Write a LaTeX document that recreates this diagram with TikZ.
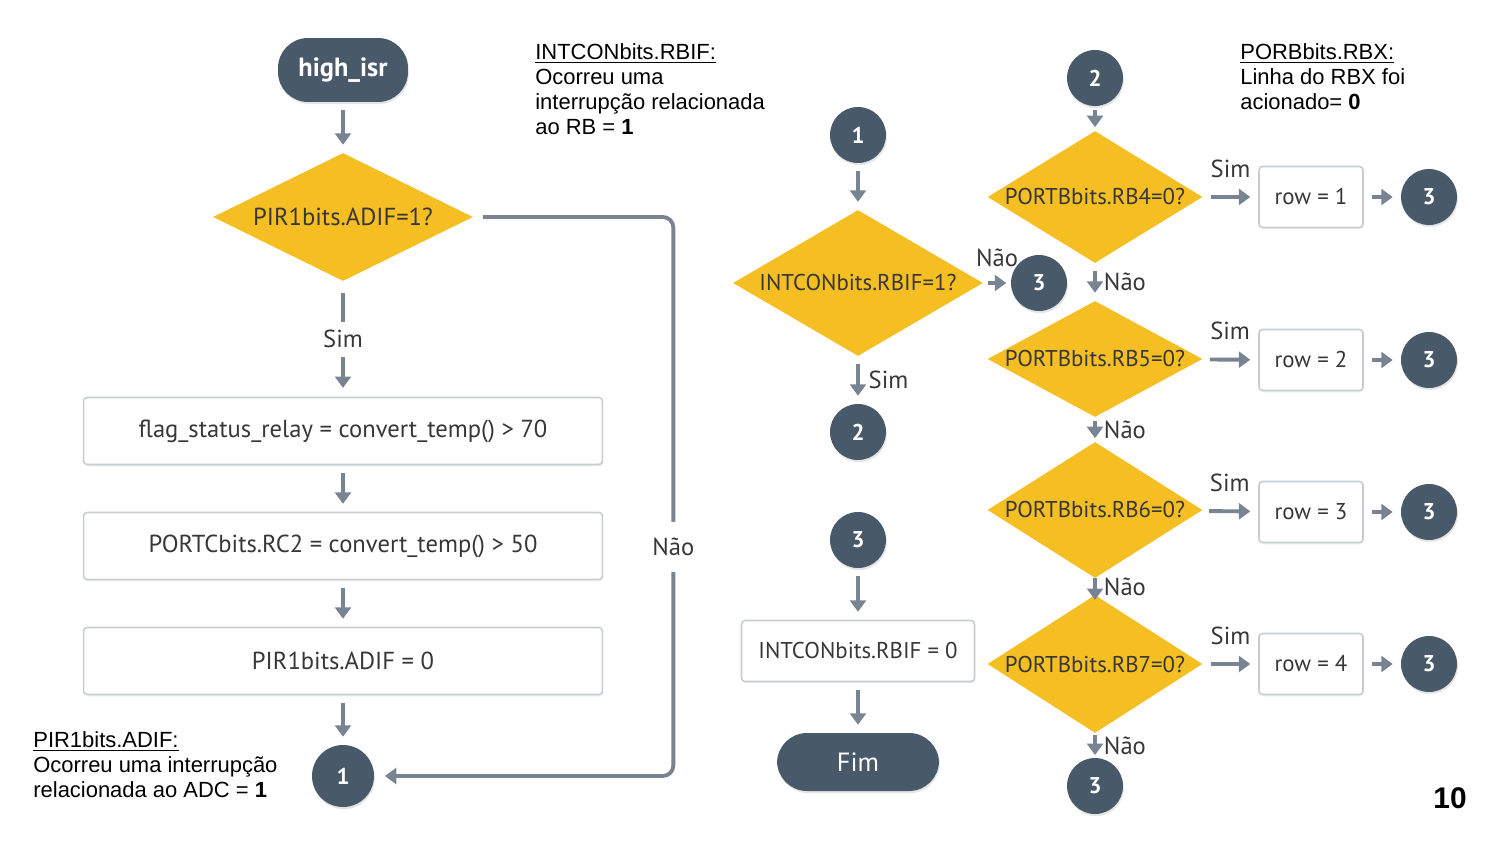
\documentclass[tikz,border=0pt]{standalone}
\usepackage{fontspec}
\setmainfont{Liberation Sans}
\newfontfamily\dinfont{PT Sans}
\usepackage{tikz}
\usetikzlibrary{shapes, shapes.geometric, positioning, calc, arrows.meta, shadows}
\definecolor{slate}{RGB}{72,89,106}
\definecolor{mustard}{RGB}{245,191,35}
\definecolor{arrowgray}{RGB}{120,132,145}
\definecolor{boxgray}{RGB}{200,205,210}
\definecolor{textgray}{RGB}{55,55,55}

\begin{document}
\begin{tikzpicture}[x=0.02cm, y=-0.02cm]
\fill[white] (0,0) rectangle (1500,844);
\useasboundingbox (0,0) rectangle (1500,844);
\tikzstyle{term}=[rectangle, rounded corners=0.6cm, fill=slate, text=white, minimum width=2.6cm, minimum height=1.28cm, font=\dinfont\fontsize{15}{17}\selectfont\bfseries, drop shadow={opacity=0.2, shadow xshift=0.5pt, shadow yshift=-1.2pt}]
\tikzstyle{dec}=[diamond, aspect=2, fill=mustard, inner sep=0pt, text=textgray, font=\dinfont\fontsize{13}{15}\selectfont]
\tikzstyle{proc}=[rectangle, draw=boxgray, line width=0.9pt, fill=white, rounded corners=2pt, text=textgray, font=\dinfont\fontsize{14}{16}\selectfont, drop shadow={opacity=0.12, shadow xshift=0.5pt, shadow yshift=-1pt}]
\tikzstyle{conn}=[circle, fill=slate, text=white, minimum size=1.12cm, inner sep=0pt, font=\dinfont\fontsize{13}{15}\selectfont\bfseries, drop shadow={opacity=0.2, shadow xshift=0.5pt, shadow yshift=-1.2pt}]
\tikzstyle{lbl}=[text=textgray, font=\dinfont\fontsize{14}{16}\selectfont, inner sep=1pt]
\tikzstyle{note}=[align=left, anchor=north west, inner sep=0pt, font=\fontsize{12.5}{14.2}\selectfont, text=black]
\tikzstyle{arr}=[draw=arrowgray, line width=2.2pt, -{Triangle[width=9pt,length=6.5pt]}, shorten <=4.5pt, shorten >=4.5pt]
%% left column
\node (isr) at (343,70) [term] {high\_isr};
\node (qadif) at (343,217) [dec, minimum width=5.2cm, minimum height=2.56cm, font=\dinfont\fontsize{14}{16}\selectfont] {PIR1bits.ADIF=1?};
\node (sflag) at (343,431) [proc, minimum width=10.38cm, minimum height=1.34cm] {flag\_status\_relay = convert\_temp() > 70};
\node (sportc) at (343,546) [proc, minimum width=10.38cm, minimum height=1.34cm] {PORTCbits.RC2 = convert\_temp() > 50};
\node (sadif) at (343,661) [proc, minimum width=10.38cm, minimum height=1.34cm] {PIR1bits.ADIF = 0};
\node (k1) at (343,776) [conn, minimum size=1.24cm] {1};

\draw[arr] (isr) -- (qadif);
\draw[arr, shorten <=6.5pt, shorten >=5pt] (qadif) -- node[lbl, fill=white, minimum height=0.7cm]{Sim} (sflag);
\draw[arr] (sflag) -- (sportc);
\draw[arr] (sportc) -- (sadif);
\draw[arr] (sadif) -- (k1);
\draw[arr, rounded corners=6pt, shorten <=5.5pt, shorten >=6pt] (qadif.east) -- ++(200,0) |- node[pos=0.295, lbl, fill=white, minimum height=1cm]{Não} (k1.east);

%% middle column
\node (k1b) at (858,135) [conn] {1};
\node (qrbif) at (858,283) [dec, minimum width=5cm, minimum height=2.92cm] {INTCONbits.RBIF=1?};
\node (k3a) at (1039,283) [conn] {3};
\node (k2a) at (858,432) [conn] {2};
\node (k3b) at (858,540) [conn] {3};
\node (sclr) at (858,651) [proc, minimum width=4.66cm, minimum height=1.22cm, font=\dinfont\fontsize{13}{15}\selectfont] {INTCONbits.RBIF = 0};
\node (fim) at (858,762) [term, minimum width=3.24cm, minimum height=1.16cm, font=\dinfont\fontsize{15}{17}\selectfont] {Fim};

\draw[arr] (k1b) -- (qrbif);
\draw[arr, shorten <=2.5pt, shorten >=2.5pt] (qrbif) -- node[lbl, above=7pt]{Não} (k3a);
\draw[arr] (qrbif) -- node[lbl, right=4pt]{Sim} (k2a);
\draw[arr] (k3b) -- (sclr);
\draw[arr] (sclr) -- (fim);

%% right column
\node (k2b) at (1095,78) [conn] {2};
\node (qrb4) at (1095,197) [dec, minimum width=4.3cm, minimum height=2.64cm] {PORTBbits.RB4=0?};
\node (qrb5) at (1095,359) [dec, minimum width=4.3cm, minimum height=2.32cm] {PORTBbits.RB5=0?};
\node (qrb6) at (1095,510) [dec, minimum width=4.3cm, minimum height=2.72cm] {PORTBbits.RB6=0?};
\node (qrb7) at (1095,664) [dec, minimum width=4.3cm, minimum height=2.76cm] {PORTBbits.RB7=0?};
\node (k3e) at (1095,786) [conn] {3};

\tikzstyle{rowbox}=[proc, minimum width=2.08cm, minimum height=1.22cm, font=\dinfont\fontsize{13}{15}\selectfont]
\node (row1) at (1311,197) [rowbox] {row = 1};
\node (row2) at (1311,360) [rowbox] {row = 2};
\node (row3) at (1311,512) [rowbox] {row = 3};
\node (row4) at (1311,664) [rowbox] {row = 4};
\node (k3r1) at (1429,197) [conn] {3};
\node (k3r2) at (1429,360) [conn] {3};
\node (k3r3) at (1429,512) [conn] {3};
\node (k3r4) at (1429,664) [conn] {3};

\draw[arr, shorten <=2pt, shorten >=2pt] (k2b) -- (qrb4);
\draw[arr] (qrb4) -- node[lbl, above=9pt]{Sim} (row1);
\draw[arr] (qrb5) -- node[lbl, above=9pt]{Sim} (row2);
\draw[arr] (qrb6) -- node[lbl, above=9pt]{Sim} (row3);
\draw[arr] (qrb7) -- node[lbl, above=9pt]{Sim} (row4);
\draw[arr] (row1) -- (k3r1);
\draw[arr] (row2) -- (k3r2);
\draw[arr] (row3) -- (k3r3);
\draw[arr] (row4) -- (k3r4);
\draw[arr] (qrb4) -- node[lbl, right=3pt]{Não} (qrb5);
\draw[arr, shorten <=2pt, shorten >=2pt] (qrb5) -- node[lbl, right=3pt]{Não} (qrb6);
\draw[arr, shorten <=0pt, shorten >=-3pt] (qrb6) -- node[lbl, right=3pt]{Não} (qrb7);
\draw[arr, shorten <=1pt, shorten >=1.5pt] (qrb7) -- node[lbl, right=3pt]{Não} (k3e);

%% notes
\node (l01) at (33,731) [note] {\underline{PIR1bits.ADIF:}\\Ocorreu uma interrupção\\relacionada ao ADC = \textbf{1}};
\node (l02) at (535,43) [note] {\underline{INTCONbits.RBIF:}\\Ocorreu uma\\interrupção relacionada\\ao RB = \textbf{1}};
\node (l03) at (1240,43) [note] {\underline{PORBbits.RBX:}\\Linha do RBX foi\\acionado= \textbf{0}};
\node (pg) at (1450,798) [font=\bfseries\fontsize{17}{20}\selectfont] {10};
\end{tikzpicture}
\end{document}
